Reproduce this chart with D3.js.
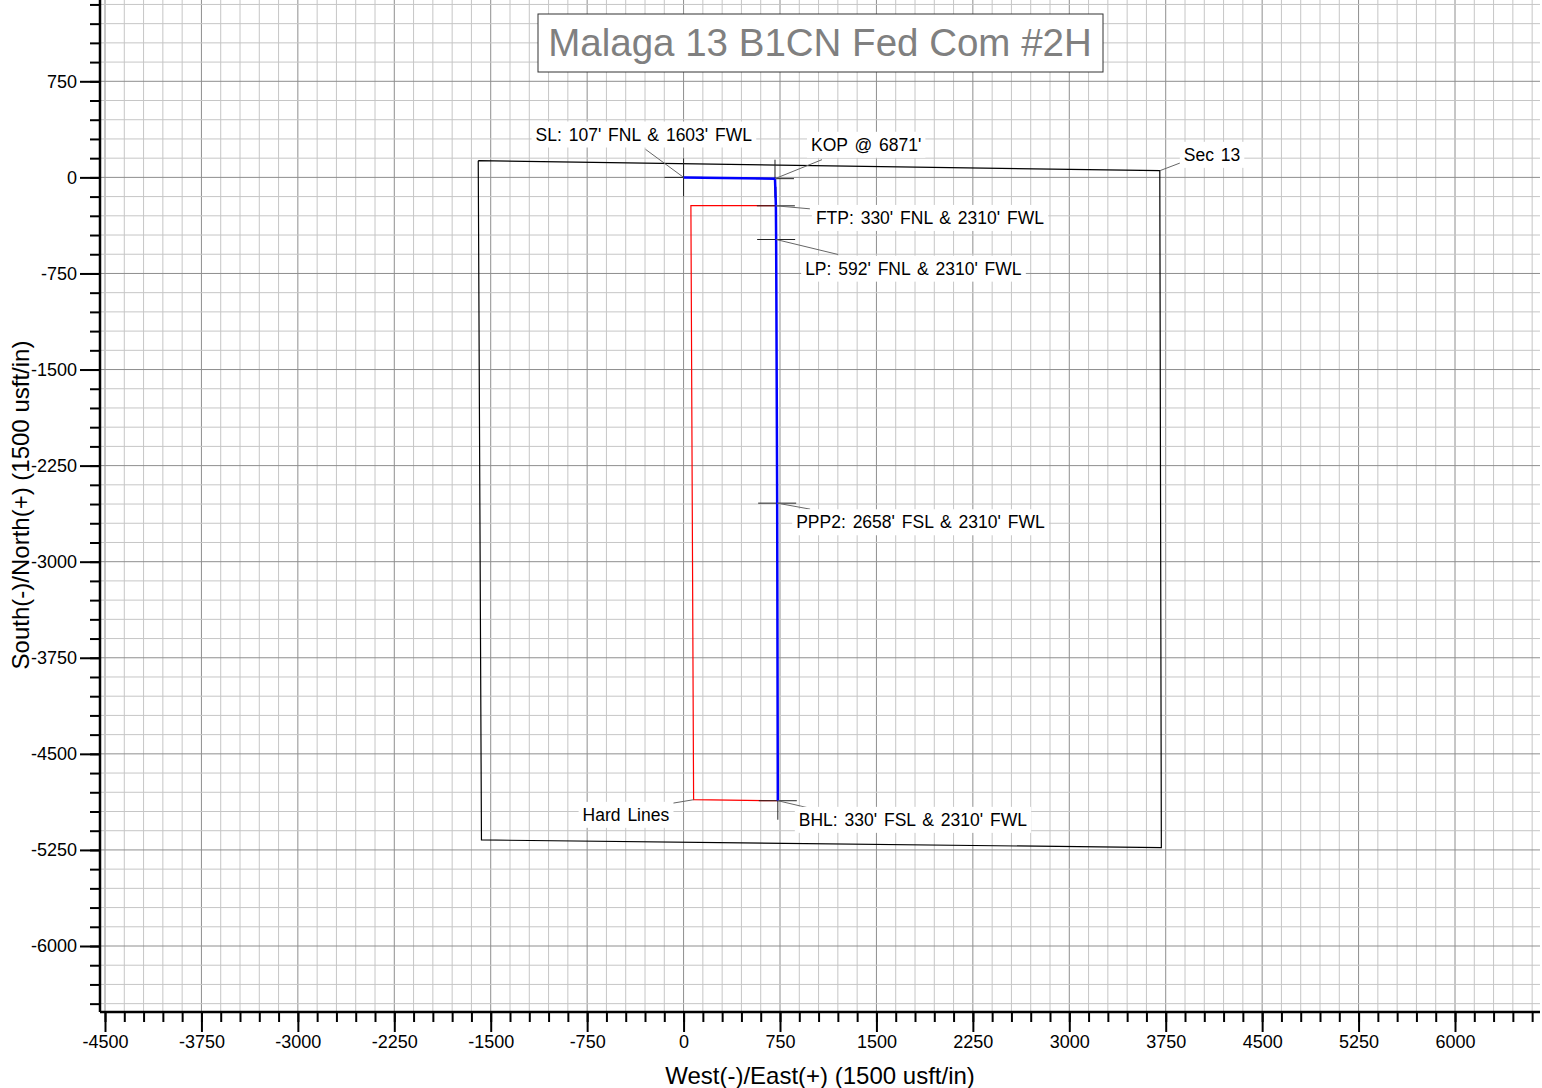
<!DOCTYPE html>
<html>
<head>
<meta charset="utf-8">
<script src="https://cdn.jsdelivr.net/npm/d3@7"></script>
<style>
  body { margin: 0; background: #fff; }
  text { font-family: "Liberation Sans", Arial, sans-serif; }
</style>
</head>
<body>
<div id="main"></div>
<script>
var title = "Malaga 13 B1CN Fed Com #2H";
var xTitle = "West(-)/East(+) (1500 usft/in)";
var yTitle = "South(-)/North(+) (1500 usft/in)";

// tick values (usft)
var xMajorTicks = [-4500, -3750, -3000, -2250, -1500, -750, 0, 750, 1500, 2250, 3000, 3750, 4500, 5250, 6000];
var yMajorTicks = [750, 0, -750, -1500, -2250, -3000, -3750, -4500, -5250, -6000];
var minorStep = 150;

// section 13 outline, [east, north]
var sectionOutline = [[-1597, 130], [3704, 52], [3716, -5232], [-1572, -5172], [-1597, 130]];
// planned wellpath, [east, north]
var wellpath = [[0, 0], [711, -10], [718, -222], [720, -485], [728, -2543], [733, -4866]];
// hard lines
var hardLines = [[718, -220], [57, -220], [78, -4858], [733, -4866]];

// annotated points
var annoNames = ["SL: 107' FNL & 1603' FWL", "KOP @ 6871'", "FTP: 330' FNL & 2310' FWL", "LP: 592' FNL & 2310' FWL",
                 "PPP2: 2658' FSL & 2310' FWL", "BHL: 330' FSL & 2310' FWL", "Hard Lines", "Sec 13"];
var annoPoints = [[0, 0], [711, -10], [718, -222], [720, -485], [728, -2543], [733, -4866], [78, -4858], [3704, 52]];
var markerPoints = [[0, 0], [711, -10], [718, -222], [720, -485], [728, -2543], [733, -4866]];

// label layout (px offsets from the point): leader end, text start
var annoLayout = [
  {lx: -38, ly: -28, tx: -148, ty: -43},
  {lx: 47, ly: -19, tx: 36, ty: -34},
  {lx: 34, ly: 3, tx: 40, ty: 12},
  {lx: 62, ly: 15, tx: 29, ty: 29},
  {lx: 33, ly: 6, tx: 19, ty: 19},
  {lx: 30, ly: 7, tx: 21, ty: 19},
  {lx: -36, ly: 6, tx: -111, ty: 15},
  {lx: 21, ly: -8, tx: 24, ty: -16}
];

var width = 1542, height = 1088;
var plot = {left: 100, right: 1540, top: 0, bottom: 1012};

var x = d3.scaleLinear().domain([-4500, 6000]).range([105, 1455]);
var y = d3.scaleLinear().domain([750, -6000]).range([81.3, 946]);

var svg = d3.select('#main').append('svg')
  .attr('width', width).attr('height', height);

svg.append('clipPath').attr('id', 'clip')
  .append('rect')
  .attr('x', plot.left).attr('y', plot.top)
  .attr('width', plot.right - plot.left).attr('height', plot.bottom - plot.top);

var xMinor = d3.range(-4500, x.invert(plot.right) + 1, minorStep);
var yMinor = d3.range(-6450, y.invert(plot.top) + 1, minorStep);

var grid = svg.append('g').attr('clip-path', 'url(#clip)');
grid.selectAll('.vx').data(xMinor).enter().append('line')
  .attr('x1', function(d) { return x(d); }).attr('x2', function(d) { return x(d); })
  .attr('y1', plot.top).attr('y2', plot.bottom)
  .attr('stroke', function(d) { return d % 750 === 0 ? '#8e8e8e' : '#c6c6c6'; })
  .attr('stroke-width', 1);
grid.selectAll('.hy').data(yMinor).enter().append('line')
  .attr('y1', function(d) { return y(d); }).attr('y2', function(d) { return y(d); })
  .attr('x1', plot.left).attr('x2', plot.right)
  .attr('stroke', function(d) { return d % 750 === 0 ? '#8e8e8e' : '#c6c6c6'; })
  .attr('stroke-width', 1);

// axes
var plain = function(d) { return String(d); };
var xAxisMinor = d3.axisBottom(x).tickValues(xMinor).tickSize(10).tickSizeOuter(0).tickFormat('');
var xAxisMajor = d3.axisBottom(x).tickValues(xMajorTicks).tickSize(20).tickSizeOuter(0).tickPadding(3).tickFormat(plain);
var yAxisMinor = d3.axisLeft(y).tickValues(yMinor).tickSize(10).tickSizeOuter(0).tickFormat('');
var yAxisMajor = d3.axisLeft(y).tickValues(yMajorTicks).tickSize(20).tickSizeOuter(0).tickPadding(3).tickFormat(plain);

function styleAxis(g) {
  g.select('.domain').remove();
  g.selectAll('line').attr('stroke', '#000').attr('stroke-width', 2);
  g.selectAll('text').attr('fill', '#000').style('font-size', '18px')
    .style('font-family', '"Liberation Sans", Arial, sans-serif');
}

svg.append('g').attr('transform', 'translate(0,' + plot.bottom + ')').call(xAxisMinor).call(styleAxis);
svg.append('g').attr('transform', 'translate(0,' + plot.bottom + ')').call(xAxisMajor).call(styleAxis);
svg.append('g').attr('transform', 'translate(' + plot.left + ',0)').call(yAxisMinor).call(styleAxis);
svg.append('g').attr('transform', 'translate(' + plot.left + ',0)').call(yAxisMajor).call(styleAxis);

svg.append('line').attr('x1', plot.left).attr('x2', plot.right)
  .attr('y1', plot.bottom).attr('y2', plot.bottom).attr('stroke', '#000').attr('stroke-width', 2.5);
svg.append('line').attr('x1', plot.left).attr('x2', plot.left)
  .attr('y1', plot.top).attr('y2', plot.bottom).attr('stroke', '#000').attr('stroke-width', 2.5);

svg.append('text').attr('x', 820).attr('y', 1084).attr('text-anchor', 'middle')
  .style('font-size', '24px').text(xTitle);
svg.append('text').attr('transform', 'translate(29,505) rotate(-90)').attr('text-anchor', 'middle')
  .style('font-size', '24px').text(yTitle);

// map layers
var line = d3.line().x(function(d) { return x(d[0]); }).y(function(d) { return y(d[1]); });
var layer = svg.append('g').attr('clip-path', 'url(#clip)');

layer.append('path').datum(sectionOutline).attr('d', line)
  .attr('fill', 'none').attr('stroke', '#000').attr('stroke-width', 1.2);

layer.append('path').datum(hardLines).attr('d', line)
  .attr('fill', 'none').attr('stroke', '#ff0000').attr('stroke-width', 1.2);

// crosshair markers
var marks = layer.selectAll('.mark').data(markerPoints).enter().append('g')
  .attr('transform', function(d) { return 'translate(' + x(d[0]) + ',' + y(d[1]) + ')'; });
marks.append('line').attr('x1', -19).attr('x2', 19).attr('y1', 0).attr('y2', 0)
  .attr('stroke', '#222').attr('stroke-width', 1);
marks.append('line').attr('x1', 0).attr('x2', 0).attr('y1', -19).attr('y2', 19)
  .attr('stroke', '#222').attr('stroke-width', 1);

layer.append('path').datum(wellpath).attr('d', line)
  .attr('fill', 'none').attr('stroke', '#0000ff').attr('stroke-width', 2.5);

// annotations
var annos = svg.append('g').selectAll('g').data(annoNames).enter().append('g');
annos.append('line')
  .attr('x1', function(d, i) { return x(annoPoints[i][0]); })
  .attr('y1', function(d, i) { return y(annoPoints[i][1]); })
  .attr('x2', function(d, i) { return x(annoPoints[i][0]) + annoLayout[i].lx; })
  .attr('y2', function(d, i) { return y(annoPoints[i][1]) + annoLayout[i].ly; })
  .attr('stroke', '#666').attr('stroke-width', 1);
var bg = annos.append('rect').attr('fill', '#fff');
var labels = annos.append('text')
  .attr('x', function(d, i) { return x(annoPoints[i][0]) + annoLayout[i].tx; })
  .attr('y', function(d, i) { return y(annoPoints[i][1]) + annoLayout[i].ty; })
  .attr('dy', '0.35em')
  .style('font-size', '17.5px').style('word-spacing', '2px')
  .text(function(d) { return d; });
labels.each(function(d, i) {
  var b = this.getBBox();
  d3.select(bg.nodes()[i])
    .attr('x', b.x - 4).attr('y', b.y - 3)
    .attr('width', b.width + 8).attr('height', b.height + 6);
});

// title box
svg.append('rect').attr('x', 538).attr('y', 14).attr('width', 565).attr('height', 58)
  .attr('fill', '#fff').attr('stroke', '#333').attr('stroke-width', 1);
svg.append('text').attr('x', 820).attr('y', 43).attr('dy', '0.35em').attr('text-anchor', 'middle')
  .attr('fill', '#808080').style('font-size', '38.5px').text(title);
</script>
</body>
</html>
